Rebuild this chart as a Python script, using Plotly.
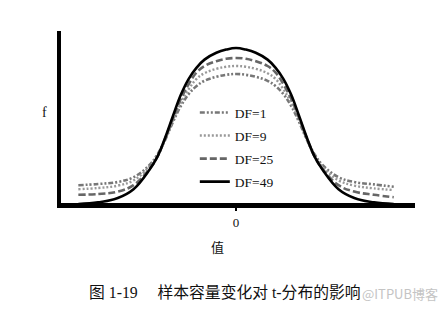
import plotly.graph_objects as go

# x positions (t value) and curve heights
x_vals = [-4, -3.5, -3, -2.6, -2.2, -2.0, -1.8, -1.6, -1.4, -1.2, -1.0, -0.8, -0.5, -0.25, 0,
          0.25, 0.5, 0.8, 1.0, 1.2, 1.4, 1.6, 1.8, 2.0, 2.2, 2.6, 3, 3.5, 4]

df1 = [0.052, 0.055, 0.060, 0.072, 0.102, 0.128, 0.165, 0.210, 0.250, 0.280, 0.300, 0.313, 0.323, 0.328, 0.330,
       0.328, 0.323, 0.313, 0.300, 0.280, 0.250, 0.210, 0.165, 0.128, 0.102, 0.072, 0.060, 0.054, 0.048]
df9 = [0.042, 0.045, 0.051, 0.064, 0.098, 0.125, 0.165, 0.215, 0.258, 0.292, 0.318, 0.332, 0.343, 0.348, 0.350,
       0.348, 0.343, 0.332, 0.318, 0.292, 0.258, 0.215, 0.165, 0.125, 0.098, 0.064, 0.051, 0.044, 0.040]
df25 = [0.028, 0.030, 0.036, 0.052, 0.092, 0.122, 0.168, 0.220, 0.268, 0.305, 0.334, 0.350, 0.362, 0.368, 0.370,
        0.368, 0.362, 0.350, 0.334, 0.305, 0.268, 0.220, 0.168, 0.122, 0.092, 0.052, 0.036, 0.028, 0.022]
df49 = [0.005, 0.009, 0.020, 0.042, 0.090, 0.122, 0.170, 0.225, 0.278, 0.318, 0.346, 0.366, 0.383, 0.391, 0.395,
        0.391, 0.383, 0.366, 0.346, 0.318, 0.278, 0.225, 0.170, 0.122, 0.090, 0.042, 0.020, 0.009, 0.005]

series_names = ["DF=1", "DF=9", "DF=25", "DF=49"]
series_values = [df1, df9, df25, df49]
tick_vals = [0]
tick_text = ["0"]

styles = [
    dict(color="#777777", width=2.6, dash="5px,2px,2px,2px,2px,2px"),
    dict(color="#999999", width=2.4, dash="2px,2px"),
    dict(color="#666666", width=2.6, dash="7px,3px"),
    dict(color="#000000", width=2.6, dash="solid"),
]

SERIF = "Liberation Serif, Times New Roman, Noto Sans CJK SC, serif"

fig = go.Figure()
for name, vals, st in zip(series_names, series_values, styles):
    fig.add_trace(go.Scatter(
        x=x_vals, y=vals, mode="lines", name=name, legendgroup=name,
        line=dict(shape="spline", smoothing=1.1, **st),
    ))

fig.update_layout(
    width=448, height=309, autosize=False,
    margin=dict(l=61, r=33, t=31, b=106, pad=0),
    paper_bgcolor="white", plot_bgcolor="white",
    showlegend=True,
    legend=dict(x=0.378, y=0.615, xanchor="left", yanchor="top",
                bgcolor="rgba(0,0,0,0)", borderwidth=0,
                font=dict(family=SERIF, size=13.5, color="#111111"),
                traceorder="grouped", tracegroupgap=2.5),
    xaxis=dict(range=[-4.44, 4.54], showline=True, linewidth=5, linecolor="black",
               showgrid=False, zeroline=False,
               tickmode="array", tickvals=tick_vals, ticktext=tick_text,
               ticks="outside", ticklen=3, tickwidth=2, tickcolor="black",
               tickfont=dict(family=SERIF, size=13, color="#111111"), fixedrange=True),
    yaxis=dict(range=[0.0075, 0.4375], showline=True, linewidth=4, linecolor="black",
               showgrid=False, zeroline=False, showticklabels=False, ticks="",
               fixedrange=True),
    annotations=[
        dict(text="f", xref="paper", yref="paper", x=-0.048, y=0.529,
             xanchor="center", yanchor="middle", showarrow=False,
             font=dict(family=SERIF, size=14, color="#111111")),
        dict(text="值", xref="paper", yref="paper", x=0.442, y=-0.256,
             xanchor="center", yanchor="middle", showarrow=False,
             font=dict(family=SERIF, size=13, color="#111111")),
        dict(text="图 1-19\u3000\u00a0样本容量变化对 t-分布的影响", xref="paper", yref="paper",
             x=0.0734, y=-0.523, xanchor="left", yanchor="middle", showarrow=False,
             font=dict(family=SERIF, size=15.8, color="#111111")),
        dict(text="@ITPUB博客", xref="paper", yref="paper", x=0.8446, y=-0.529,
             xanchor="left", yanchor="middle", showarrow=False,
             font=dict(family="Noto Sans CJK SC, DejaVu Sans, sans-serif", size=13, color="#c4c4c4")),
    ],
)

fig.write_html("out.html")
